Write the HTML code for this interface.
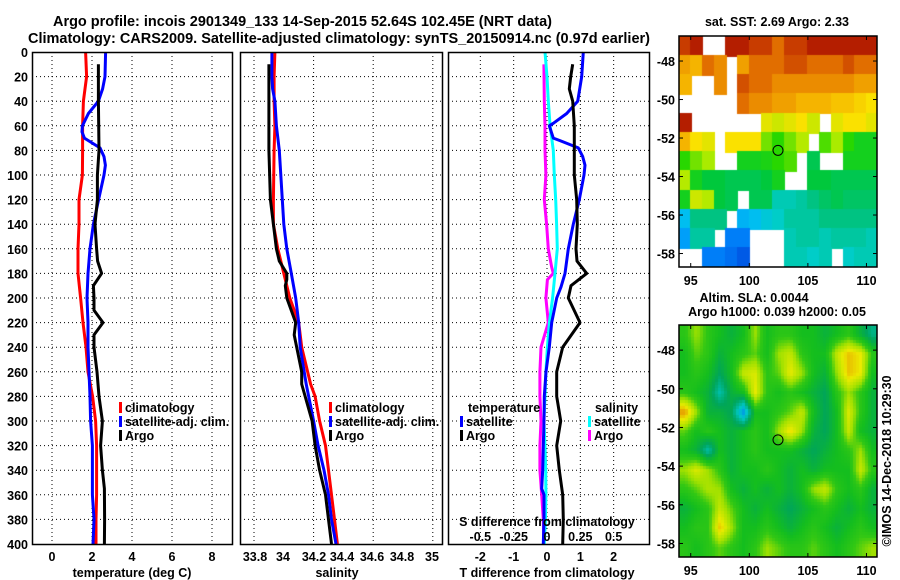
<!DOCTYPE html>
<html><head><meta charset="utf-8"><style>
html,body{margin:0;padding:0;background:#fff;}
#wrap{position:relative;width:900px;height:580px;overflow:hidden;background:#fff;}
canvas{position:absolute;}
svg{position:absolute;left:0;top:0;}
text{font-family:"Liberation Sans",sans-serif;font-weight:bold;fill:#000;}
</style></head><body>
<div id="wrap">
<canvas id="sst" width="198" height="231" style="left:679px;top:36px"></canvas>
<canvas id="sla" width="198" height="232" style="left:679px;top:325px"></canvas>
<svg id="svg" width="900" height="580">
<text x="53" y="26" font-size="14.5" textLength="499" lengthAdjust="spacingAndGlyphs">Argo profile: incois 2901349_133 14-Sep-2015 52.64S 102.45E (NRT data)</text>
<text x="28" y="43" font-size="14.5" textLength="622" lengthAdjust="spacingAndGlyphs">Climatology: CARS2009. Satellite-adjusted climatology: synTS_20150914.nc (0.97d earlier)</text>
</svg>
</div>
<script>
// ---------- data ----------
const tClimDepth=[0,20,40,60,80,100,120,140,160,180,200,220,240,260,280,300,320,340,360,380,400];
const tClimVal=[1.68,1.73,1.57,1.53,1.53,1.52,1.35,1.35,1.3,1.3,1.43,1.55,1.7,1.8,2.03,2.18,2.23,2.23,2.23,2.2,2.2];
const tSatDepth=[0,20,30,40,50,60,65,70,78,85,92,100,120,140,160,180,200,220,240,260,280,300,320,340,360,380,400];
const tSatVal=[2.68,2.65,2.53,2.32,1.82,1.52,1.5,1.62,2.4,2.6,2.67,2.6,2.33,2.07,1.9,1.8,1.75,1.8,1.8,1.85,1.9,1.93,2.02,2.02,2.02,2.1,2.05];
const tArgoDepth=[10,40,80,100,120,140,160,170,180,190,200,210,220,230,240,260,280,300,320,340,355,380,400];
const tArgoVal=[2.32,2.32,2.35,2.27,2.27,2.15,2.23,2.28,2.48,2.07,2.1,2.1,2.55,2.1,2.1,2.25,2.35,2.52,2.43,2.52,2.62,2.63,2.62];

const sClimDepth=[0,20,40,60,80,120,140,160,180,200,220,240,270,280,300,320,340,360,380,400];
const sClimVal=[33.94,33.935,33.935,33.94,33.935,33.93,33.93,33.96,34.0,34.04,34.1,34.12,34.18,34.21,34.24,34.28,34.3,34.32,34.34,34.36];
const sSatDepth=[0,20,30,40,60,80,100,120,140,160,180,200,220,240,270,300,320,340,360,380,400];
const sSatVal=[33.92,33.92,33.925,33.94,33.95,33.97,33.98,33.99,34.0,34.02,34.05,34.08,34.1,34.11,34.15,34.2,34.23,34.27,34.3,34.32,34.35];
const sArgoDepth=[10,40,80,120,140,160,170,180,185,190,200,220,230,260,270,300,320,340,360,380,400];
const sArgoVal=[33.9,33.9,33.9,33.91,33.93,33.95,33.97,34.02,34.02,34.01,34.02,34.08,34.07,34.12,34.12,34.19,34.21,34.24,34.28,34.3,34.32];

const dTSatDepth=[0,20,40,50,58,60,70,72,78,85,92,100,120,140,160,180,191,200,220,240,260,280,300,320,340,355,360,380,400];
const dTSatVal=[1.09,1.04,0.92,0.59,0.19,0.07,0.19,0.39,0.94,1.07,1.14,1.11,0.97,0.79,0.64,0.54,0.42,0.29,0.14,0.07,-0.03,-0.08,-0.09,-0.11,-0.13,-0.16,-0.09,-0.09,-0.11];
const dTArgoDepth=[10,20,30,40,60,80,100,120,140,160,170,180,190,200,220,240,260,280,300,320,340,360,380,400];
const dTArgoVal=[0.77,0.71,0.67,0.77,0.82,0.82,0.82,0.89,0.91,0.87,0.9,1.19,0.72,0.64,0.99,0.47,0.29,0.29,0.41,0.29,0.37,0.47,0.49,0.47];
const dSSatDepth=[0,20,40,60,80,100,120,140,160,180,200,220,240,260,280,300,320,340,360,380,400];
const dSSatVal=[-0.015,0,0.01,0.023,0.047,0.055,0.065,0.072,0.077,0.06,0.042,0.018,0.003,-0.008,-0.015,-0.023,-0.015,-0.01,-0.008,-0.012,-0.02];
const dSArgoDepth=[10,40,60,80,100,120,140,160,175,180,185,200,220,240,260,280,300,320,340,360,380,400];
const dSArgoVal=[-0.023,-0.02,-0.015,-0.015,-0.008,-0.02,-0.003,0.01,0.035,0.047,0.003,-0.008,0.01,-0.045,-0.053,-0.053,-0.045,-0.053,-0.053,-0.04,-0.028,-0.023];

const depthTicks=[0,20,40,60,80,100,120,140,160,180,200,220,240,260,280,300,320,340,360,380,400];
const tTicks=[0,2,4,6,8];
const sTicks=[33.8,34,34.2,34.4,34.6,34.8,35];
const sGrid=[33.8,34.2,34.6,35];
const dTTicks=[-2,-1,0,1,2];
const dSTicks=[-0.5,-0.25,0,0.25,0.5];
const dSTickLabels=["-0.5","-0.25","0","0.25","0.5"];

const mapLonTicks=[95,100,105,110];
const mapLatTicks=[-48,-50,-52,-54,-56,-58];
const argoLon=102.45, argoLat=-52.64;

const sstGrid=[
[0.9,0.95,-1,-1,0.95,0.95,0.9,0.9,0.85,0.9,0.9,0.95,0.95,0.95,0.95,0.95,0.95],
[0.8,0.78,0.85,0.82,-1,0.8,0.85,0.85,0.85,0.88,0.88,0.85,0.85,0.85,0.88,0.85,0.85],
[0.78,-1,-1,0.82,-1,0.88,0.85,0.85,0.82,0.82,0.82,0.82,0.82,0.82,0.82,0.8,0.8],
[-1,-1,-1,-1,-1,0.85,0.82,0.82,0.8,0.8,0.78,0.78,0.78,0.76,0.76,0.74,0.72],
[0.95,-1,-1,-1,-1,-1,-1,0.7,0.68,0.7,0.72,0.68,-1,0.7,0.72,0.72,0.7],
[0.78,0.72,0.7,-1,0.72,0.72,0.72,0.62,0.58,0.62,0.66,-1,0.6,0.65,0.58,0.55,0.55],
[0.58,0.62,0.65,-1,-1,0.55,0.55,0.56,0.58,0.6,-1,0.5,-1,-1,0.55,0.55,0.55],
[0.66,0.55,0.52,0.52,0.5,0.5,0.5,0.52,0.55,-1,-1,0.52,0.52,0.5,0.5,0.5,0.5],
[0.55,0.68,0.66,0.52,0.5,-1,0.5,0.5,0.4,0.4,0.42,0.45,0.48,0.5,0.48,0.48,0.48],
[0.3,0.45,0.45,0.45,-1,0.28,0.3,0.35,0.38,0.42,0.42,0.42,0.45,0.45,0.45,0.45,0.45],
[0.25,0.42,0.42,-1,0.2,0.2,-1,-1,-1,0.4,0.42,0.42,0.4,0.42,0.42,0.42,0.4],
[-1,-1,0.2,0.2,0.18,0.15,-1,-1,-1,0.4,0.4,0.38,0.4,-1,0.38,0.4,0.4]];
const slaGrid=[
[0.6,0.7,0.6,0.55,0.5,0.55,0.7,0.55,0.6,0.6,0.55,0.55,0.5,0.55,0.6,0.5,0.4],
[0.55,0.65,0.6,0.5,0.55,0.6,0.65,0.55,0.7,0.75,0.6,0.55,0.55,0.75,0.85,0.8,0.6],
[0.55,0.6,0.55,0.45,0.55,0.75,0.78,0.6,0.65,0.8,0.7,0.55,0.5,0.7,0.85,0.8,0.55],
[0.6,0.55,0.5,0.35,0.5,0.55,0.8,0.6,0.55,0.6,0.55,0.5,0.45,0.6,0.7,0.6,0.5],
[0.9,0.7,0.5,0.5,0.45,0.2,0.55,0.55,0.6,0.65,0.75,0.55,0.45,0.55,0.78,0.6,0.5],
[0.65,0.55,0.6,0.55,0.5,0.55,0.6,0.55,0.7,0.82,0.7,0.5,0.45,0.55,0.75,0.55,0.5],
[0.55,0.5,0.35,0.55,0.5,0.55,0.6,0.55,0.55,0.55,0.5,0.45,0.5,0.55,0.6,0.7,0.55],
[0.7,0.78,0.7,0.6,0.5,0.55,0.55,0.6,0.55,0.5,0.55,0.5,0.55,0.55,0.55,0.75,0.6],
[0.6,0.65,0.72,0.7,0.55,0.5,0.55,0.5,0.55,0.5,0.55,0.7,0.75,0.6,0.55,0.6,0.5],
[0.5,0.55,0.6,0.75,0.65,0.55,0.5,0.55,0.5,0.45,0.5,0.55,0.6,0.55,0.5,0.55,0.5],
[0.55,0.6,0.6,0.85,0.7,0.55,0.55,0.6,0.55,0.5,0.55,0.6,0.55,0.5,0.55,0.6,0.55],
[0.6,0.55,0.6,0.65,0.6,0.55,0.6,0.7,0.65,0.6,0.6,0.65,0.6,0.55,0.6,0.65,0.7]];

// ---------- helpers ----------
const NS="http://www.w3.org/2000/svg";
const svg=document.getElementById('svg');
function el(tag,attrs,parent){const e=document.createElementNS(NS,tag);for(const k in attrs)e.setAttribute(k,attrs[k]);(parent||svg).appendChild(e);return e;}
function txt(x,y,s,size,anchor){const t=el('text',{x:x,y:y,'font-size':size||12,'text-anchor':anchor||'middle'});t.textContent=s;return t;}
const yTop=52,yBot=544;
function yD(d){return yTop+(yBot-yTop)*d/400;}
function panel(name){
  const g=el('g',{});
  
  
  return g;
}
function dotV(g,x){const l=el('line',{x1:x,y1:yTop,x2:x,y2:yBot,stroke:'#000','stroke-width':1,'stroke-dasharray':'1,3'},g);
  
  }
function dotH(g,x0,x1,y){const l=el('line',{x1:x0,y1:y,x2:x1,y2:y,stroke:'#000','stroke-width':1,'stroke-dasharray':'1,3'},g);
  
  }
function frame(g,x0,x1){const r=el('rect',{x:x0+0.5,y:yTop+0.5,width:x1-x0,height:yBot-yTop,fill:'none',stroke:'#000','stroke-width':1.5},g);
  
  }
function line(g,depths,vals,xf,color,name){
  const pts=depths.map((d,i)=>xf(vals[i]).toFixed(1)+','+yD(d).toFixed(1)).join(' ');
  const p=el('polyline',{points:pts,fill:'none',stroke:color,'stroke-width':3,'stroke-linejoin':'round'},g);
  
  
}
function legendItem(g,x,y,color,label){
  const r=el('rect',{x:x,y:y-10,width:3,height:11,fill:color},g);
  
  
  const t=txt(x+6,y,label,12.5,'start');g.appendChild(t);
  
  
}
function label(x,y,s,name,anchor){const t=txt(x,y,s,12.5,anchor);
  
  
  return t;}
function hGrid(g,x0,x1){depthTicks.forEach(d=>{if(d>0&&d<400)dotH(g,x0,x1,yD(d));});}

// ---------- panel 1: temperature ----------
const tx=v=>52+20*v;
const g1=panel('temperature-panel');
tTicks.forEach(v=>dotV(g1,tx(v)));hGrid(g1,32,232);
line(g1,tClimDepth,tClimVal,tx,'#f00','climatology-temp-line');
line(g1,tSatDepth,tSatVal,tx,'#00f','satellite-temp-line');
line(g1,tArgoDepth,tArgoVal,tx,'#000','argo-temp-line');
frame(g1,32,232);
depthTicks.forEach(d=>label(28,yD(d)+5,String(d),'y-tick-label','end'));
tTicks.forEach(v=>label(tx(v),561,String(v),'x-tick-label'));
label(132,577,'temperature (deg C)','x-axis-title-temperature');
legendItem(g1,119,412,'#f00','climatology');
legendItem(g1,119,426,'#00f','satellite-adj. clim.');
legendItem(g1,119,440,'#000','Argo');

// ---------- panel 2: salinity ----------
const sx=v=>254+149*(v-33.8);
const g2=panel('salinity-panel');
sGrid.forEach(v=>dotV(g2,sx(v)));hGrid(g2,240,442);
line(g2,sClimDepth,sClimVal,sx,'#f00','climatology-sal-line');
line(g2,sSatDepth,sSatVal,sx,'#00f','satellite-sal-line');
line(g2,sArgoDepth,sArgoVal,sx,'#000','argo-sal-line');
frame(g2,240,442);
const sLabX=[255,283,314,342,372,402,432];
sTicks.forEach((v,i)=>label(sLabX[i],561,String(v),'x-tick-label'));
label(337,577,'salinity','x-axis-title-salinity');
legendItem(g2,329,412,'#f00','climatology');
legendItem(g2,329,426,'#00f','satellite-adj. clim.');
legendItem(g2,329,440,'#000','Argo');

// ---------- panel 3: differences ----------
const dx=v=>547+33.33*v;
const dsx=v=>547+133.33*v;
const g3=panel('difference-panel');
dTTicks.forEach(v=>dotV(g3,dx(v)));hGrid(g3,448,649);
line(g3,dSArgoDepth,dSArgoVal,dsx,'#f0f','argo-sal-diff-line');
line(g3,dSSatDepth,dSSatVal,dsx,'#0ff','satellite-sal-diff-line');
line(g3,dTSatDepth,dTSatVal,dx,'#00f','satellite-temp-diff-line');
line(g3,dTArgoDepth,dTArgoVal,dx,'#000','argo-temp-diff-line');
frame(g3,448,649);
dTTicks.forEach(v=>label(dx(v),561,String(v),'x-tick-label'));
label(547,577,'T difference from climatology','x-axis-title-tdiff');
label(547,526,'S difference from climatology','s-diff-axis-title');
dSTicks.forEach((v,i)=>label(dsx(v),541,dSTickLabels[i],'s-diff-tick-label'));
label(468,412,'temperature','legend-title-temperature','start');
label(595,412,'salinity','legend-title-salinity','start');
legendItem(g3,460,426,'#00f','satellite');
legendItem(g3,460,440,'#000','Argo');
legendItem(g3,588,426,'#0ff','satellite');
legendItem(g3,588,440,'#f0f','Argo');

// ---------- maps ----------
const sstStops=[[0,[0,40,200]],[0.15,[0,90,230]],[0.22,[0,140,255]],[0.3,[0,190,240]],[0.38,[0,205,200]],[0.45,[0,195,130]],[0.52,[0,200,60]],[0.58,[40,215,0]],[0.65,[170,235,0]],[0.72,[250,225,0]],[0.78,[245,180,0]],[0.84,[230,120,0]],[0.9,[200,60,0]],[1,[160,0,0]]];
const slaStops=[[0,[0,90,255]],[0.2,[0,150,230]],[0.32,[0,200,200]],[0.45,[0,165,90]],[0.55,[20,190,30]],[0.62,[50,200,20]],[0.7,[160,225,0]],[0.8,[235,235,0]],[0.9,[230,150,0]],[1,[200,80,0]]];
function cmap(stops,v){
  for(let i=1;i<stops.length;i++){if(v<=stops[i][0]){const a=stops[i-1],b=stops[i];const t=(v-a[0])/(b[0]-a[0]);return 'rgb('+a[1].map((c,k)=>Math.round(c+(b[1][k]-c)*t)).join(',')+')';}}
  const l=stops[stops.length-1][1];return 'rgb('+l.join(',')+')';
}
const lonMin=94.0,lonMax=110.9;
(function(){
  const c=document.getElementById('sst').getContext('2d');
  c.fillStyle='#fff';c.fillRect(0,0,198,231);
  const pxLon=198/(lonMax-lonMin),pxLat=231/12;
  sstGrid.forEach((row,r)=>row.forEach((v,k)=>{if(v<0)return;c.fillStyle=cmap(sstStops,v);c.fillRect(Math.floor(k*pxLon),Math.floor(r*pxLat),Math.ceil(pxLon)+1,Math.ceil(pxLat)+1);}));
})();
(function(){
  const c=document.getElementById('sla').getContext('2d');
  const W=198,H=232,cell=3,R=slaGrid.length,C=slaGrid[0].length;
  for(let y=0;y<H;y+=cell)for(let x=0;x<W;x+=cell){
    const gx=Math.min(Math.max((x+1.5)/W*(lonMax-lonMin)-0.5,0),C-1.001);
    const gy=Math.min(Math.max((y+1.5)/H*12-0.5,0),R-1.001);
    const i=Math.floor(gy),j=Math.floor(gx),fy=gy-i,fx=gx-j;
    const v=slaGrid[i][j]*(1-fx)*(1-fy)+slaGrid[i][j+1]*fx*(1-fy)+slaGrid[i+1][j]*(1-fx)*fy+slaGrid[i+1][j+1]*fx*fy;
    c.fillStyle=cmap(slaStops,v);c.fillRect(x,y,cell,cell);
  }
})();
function mapAxes(x0,y0,w,h,latTop,name){
  const g=el('g',{});
  
  
  const lx=lon=>x0+(lon-lonMin)/(lonMax-lonMin)*w;
  const ly=lat=>y0+(latTop-lat)/12*h;
  const r=el('rect',{x:x0,y:y0,width:w,height:h,fill:'none',stroke:'#000','stroke-width':1.5},g);
  
  
  mapLonTicks.forEach(v=>{const X=lx(v);el('line',{x1:X,y1:y0,x2:X,y2:y0+4,stroke:'#000'},g);el('line',{x1:X,y1:y0+h,x2:X,y2:y0+h-4,stroke:'#000'},g);
    label(X,y0+h+18,String(v),'map-lon-label');});
  mapLatTicks.forEach(v=>{const Y=ly(v);el('line',{x1:x0,y1:Y,x2:x0+4,y2:Y,stroke:'#000'},g);el('line',{x1:x0+w,y1:Y,x2:x0+w-4,y2:Y,stroke:'#000'},g);
    label(x0-4,Y+5,String(v),'map-lat-label','end');});
  const m=el('circle',{cx:lx(argoLon),cy:ly(argoLat),r:5,fill:'none',stroke:'#000','stroke-width':1},g);
  
  
}
mapAxes(679,36,198,231,-46.7,'sst-map-axes');
mapAxes(679,325,198,232,-46.7,'sla-map-axes');
label(777,26,'sat. SST: 2.69 Argo: 2.33','sst-map-title');
label(754,302,'Altim. SLA: 0.0044','sla-map-title');
label(777,316,'Argo h1000: 0.039 h2000: 0.05','sla-map-subtitle');
{const t=el('text',{x:0,y:0,'font-size':12.5,'text-anchor':'middle','font-weight':'normal',transform:'translate(891,461) rotate(-90)'});t.textContent='©IMOS 14-Dec-2018 10:29:30';

}
</script>
</body></html>
